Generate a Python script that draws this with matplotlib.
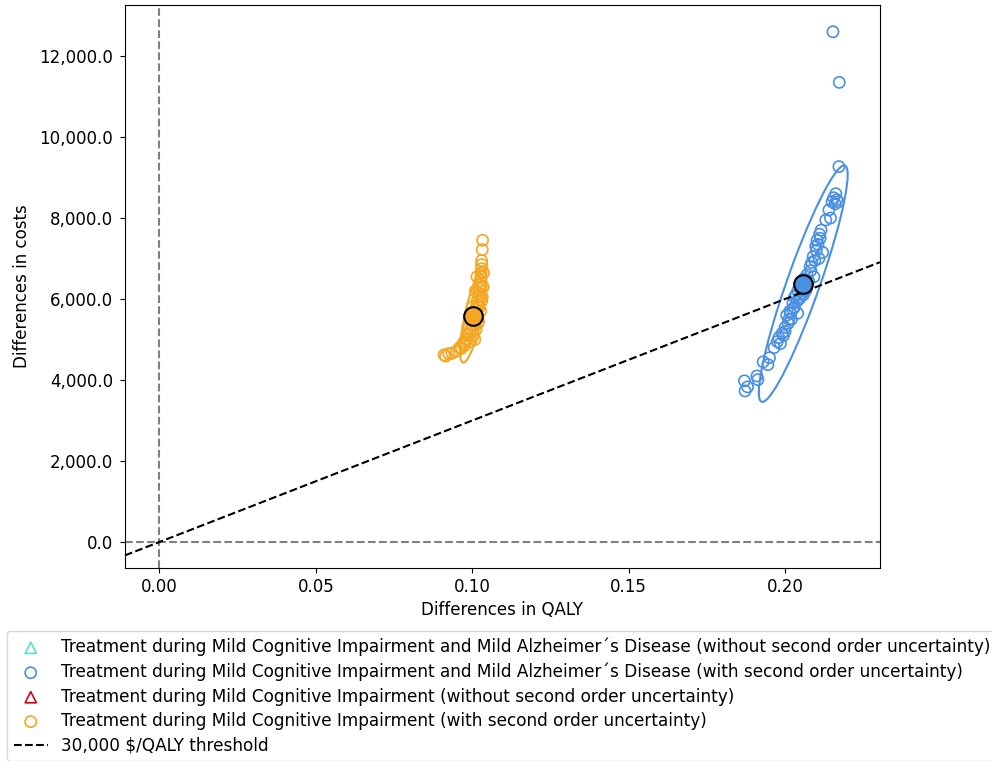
import matplotlib.pyplot as plt
import matplotlib.transforms as transforms
from matplotlib.patches import Ellipse
from matplotlib.ticker import FuncFormatter

# PSA samples
mci_ad_qaly = [0.1870, 0.1872, 0.1880, 0.1910, 0.1913, 0.1930, 0.1945, 0.1950, 0.1965, 0.1975,
               0.1980, 0.1985, 0.1990, 0.2000, 0.2005, 0.2010, 0.2015, 0.2020, 0.2025, 0.2030,
               0.2035, 0.2040, 0.2045, 0.2050, 0.2055, 0.2060, 0.2065, 0.2070, 0.2075, 0.2080,
               0.2085, 0.2090, 0.2095, 0.2100, 0.2102, 0.2105, 0.2110, 0.2112, 0.2115, 0.2120,
               0.2130, 0.2140, 0.2145, 0.2150, 0.2155, 0.2160, 0.2162, 0.2165, 0.2170, 0.2172,
               0.2153, 0.2173, 0.2062, 0.2068, 0.2040, 0.2030, 0.2018, 0.2082, 0.2092, 0.2108,
               0.2000, 0.2012, 0.2025, 0.2038, 0.1995, 0.2048, 0.2058, 0.2098]
mci_ad_cost = [3980, 3730, 3830, 4100, 4010, 4450, 4380, 4550, 4800, 4950,
               5050, 4900, 5150, 5300, 5600, 5400, 5700, 5500, 5900, 5800,
               6100, 5650, 6000, 6300, 6150, 6500, 6200, 6600, 6450, 6800,
               6900, 7050, 6950, 7200, 7450, 7350, 7600, 7500, 7700, 7150,
               7950, 8200, 8000, 8400, 8500, 8350, 8600, 8450, 8400, 9270,
               12600, 11350, 6350, 6250, 6200, 6050, 5650, 6700, 6550, 7000,
               5200, 5500, 5750, 5950, 5100, 6050, 6100, 7300]

mci_qaly = [0.0910, 0.0915, 0.0925, 0.0935, 0.0950, 0.0960, 0.0965, 0.0970, 0.0975, 0.0980,
            0.0985, 0.0990, 0.0995, 0.1000, 0.1000, 0.1005, 0.1010, 0.1010, 0.1015, 0.1015,
            0.1020, 0.1020, 0.1022, 0.1025, 0.1025, 0.1028, 0.1028, 0.1030, 0.1030, 0.1030,
            0.1028, 0.1032, 0.1033, 0.1018, 0.1012, 0.1005, 0.1025, 0.1022,
            0.0990, 0.1020, 0.0995, 0.1030, 0.1000, 0.1035, 0.1010, 0.1036,
            0.0985, 0.1008, 0.0975, 0.0995, 0.1032, 0.1015, 0.1003, 0.1027]
mci_cost = [4620, 4590, 4650, 4660, 4720, 4800, 4780, 4900, 4950, 5000,
            5100, 5150, 5250, 5350, 5450, 5550, 5650, 5750, 5850, 5950,
            6050, 6150, 6250, 6350, 6450, 6550, 6650, 6750, 6850, 6950,
            6300, 7220, 7450, 5400, 5250, 5100, 6100, 5800,
            5300, 5450, 5600, 5950, 5800, 6300, 6200, 6650,
            5000, 5000, 4850, 4950, 6050, 6550, 5500, 5700]

# deterministic results (without second order uncertainty)
det_mci_ad = (0.2055, 6440)
det_mci = (0.1003, 5600)

# PSA mean and confidence ellipse (half range in x, half range in y, correlation)
mean_mci_ad = (0.2058, 6380)
mean_mci = (0.1003, 5580)
ell_mci_ad = (0.0142, 2920, 0.92)
ell_mci = (0.0042, 1150, 0.75)

threshold = 30000

blue = '#4A90E2'
orange = '#F5A623'
green = '#50E3C2'
red = '#D0021B'


def draw_ellipse(ax, center, params, **kwargs):
    hx, hy, rho = params
    ell = Ellipse((0, 0), width=2 * (1 + rho) ** 0.5, height=2 * (1 - rho) ** 0.5,
                  facecolor='none', **kwargs)
    tr = transforms.Affine2D().rotate_deg(45).scale(hx, hy).translate(*center)
    ell.set_transform(tr + ax.transData)
    ax.add_patch(ell)


fig = plt.figure(figsize=(9.92, 7.61), dpi=100)
ax = fig.add_axes([0.126, 0.2536, 0.761, 0.7398])

ax.axhline(0, color='grey', ls='--', lw=1.5)
ax.axvline(0, color='grey', ls='--', lw=1.5)

ax.scatter(*det_mci_ad, marker='^', s=65, facecolors='none', edgecolors=green, lw=1.2,
           label='Treatment during Mild Cognitive Impairment and Mild Alzheimer´s Disease (without second order uncertainty)')
ax.scatter(mci_ad_qaly, mci_ad_cost, s=65, facecolors='none', edgecolors=blue, lw=1.2,
           label='Treatment during Mild Cognitive Impairment and Mild Alzheimer´s Disease (with second order uncertainty)')
ax.scatter(*det_mci, marker='^', s=65, facecolors='none', edgecolors=red, lw=1.2,
           label='Treatment during Mild Cognitive Impairment (without second order uncertainty)')
ax.scatter(mci_qaly, mci_cost, s=65, facecolors='none', edgecolors=orange, lw=1.2,
           label='Treatment during Mild Cognitive Impairment (with second order uncertainty)')

draw_ellipse(ax, mean_mci_ad, ell_mci_ad, edgecolor=blue, lw=1.5)
draw_ellipse(ax, mean_mci, ell_mci, edgecolor=orange, lw=1.5)

ax.scatter(*mean_mci_ad, s=180, color=blue, edgecolors='black', lw=1.5, zorder=5)
ax.scatter(*mean_mci, s=180, color=orange, edgecolors='black', lw=1.5, zorder=5)

ax.axline((0, 0), slope=threshold, color='black', ls='--', lw=1.5, label='30,000 $/QALY threshold')

ax.set_xlim(-0.011, 0.2303)
ax.set_ylim(-642, 13260)
ax.yaxis.set_major_formatter(FuncFormatter(lambda v, p: f'{v:,.1f}'))
ax.tick_params(labelsize=12)
ax.tick_params(axis='y', pad=5)
ax.set_xlabel('Differences in QALY', fontsize=12)
ax.set_ylabel('Differences in costs', fontsize=12, labelpad=6)

ax.legend(loc='upper left', bbox_to_anchor=(7 / 992, 1 - 631 / 761), bbox_transform=fig.transFigure,
          borderaxespad=0, fontsize=12.2, labelspacing=0.38, frameon=True)

fig.savefig('out.png', dpi=100)
